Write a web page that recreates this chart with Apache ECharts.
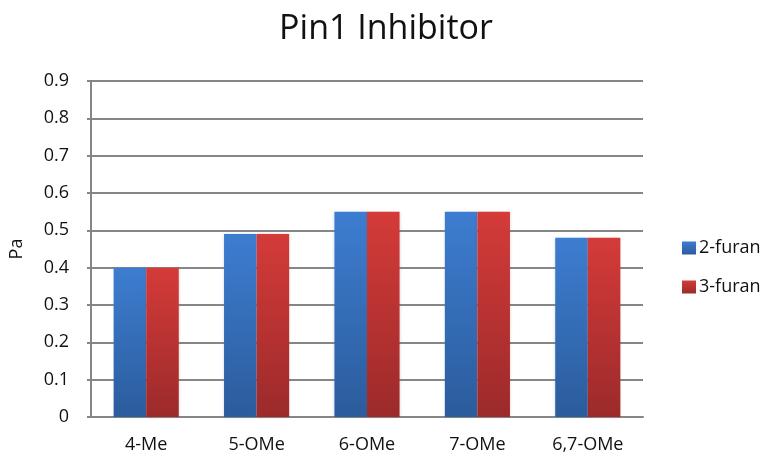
<!DOCTYPE html>
<html>
<head>
<meta charset="utf-8">
<script src="https://cdn.jsdelivr.net/npm/echarts@6/dist/echarts.min.js"></script>
<style>
  html, body { margin: 0; padding: 0; background: #fff; }
  #chart { width: 766px; height: 457px; }
</style>
</head>
<body>
<div id="chart"></div>
<script>
// Pin1 inhibition by substituent, two furan isomers
const categories = ['4-Me', '5-OMe', '6-OMe', '7-OMe', '6,7-OMe'];
const furan2 = [0.40, 0.49, 0.55, 0.55, 0.48];
const furan3 = [0.40, 0.49, 0.55, 0.55, 0.48];
const yTicks = { min: 0, max: 0.9, interval: 0.1 };

const FONT = 'Open Sans';

function vGrad(top, bottom) {
  return new echarts.graphic.LinearGradient(0, 0, 0, 1, [
    { offset: 0, color: top },
    { offset: 1, color: bottom }
  ]);
}

const chart = echarts.init(document.getElementById('chart'), null, { renderer: 'canvas' });

chart.setOption({
  backgroundColor: '#ffffff',
  animation: false,
  title: {
    text: 'Pin1 Inhibitor',
    left: 381,
    textAlign: 'center',
    top: 7,
    textStyle: { fontFamily: FONT, fontSize: 34, fontWeight: 'normal', color: '#111' }
  },
  legend: {
    orient: 'vertical',
    left: 677,
    top: 234,
    itemWidth: 14,
    itemHeight: 13,
    itemGap: 21,
    icon: 'rect',
    textStyle: { fontFamily: FONT, fontSize: 18, color: '#111', padding: [0, 0, 0, -2] },
    data: ['2-furan', '3-furan']
  },
  grid: { left: 89, right: 123, top: 81, bottom: 40, containLabel: false },
  xAxis: {
    type: 'category',
    data: categories,
    axisLine: { show: true, lineStyle: { color: '#868686', width: 2 } },
    axisTick: { show: false },
    axisLabel: { fontFamily: FONT, fontSize: 18, color: '#111', margin: 19 }
  },
  yAxis: {
    type: 'value',
    min: yTicks.min,
    max: yTicks.max,
    interval: yTicks.interval,
    name: 'Pa',
    nameLocation: 'middle',
    nameGap: 65,
    nameRotate: 90,
    nameTextStyle: { fontFamily: FONT, fontSize: 18, color: '#111' },
    axisLine: { show: true, lineStyle: { color: '#868686', width: 2 } },
    axisTick: { show: true, length: 4, lineStyle: { color: '#868686', width: 2 } },
    axisLabel: {
      fontFamily: FONT, fontSize: 18, color: '#111', margin: 22,
      formatter: v => (Math.round(v * 10) / 10).toString()
    },
    splitLine: { show: true, lineStyle: { color: '#868686', width: 2 } }
  },
  series: [
    {
      name: '2-furan',
      type: 'bar',
      data: furan2,
      barGap: '0%',
      barCategoryGap: '41%',
      itemStyle: {
        color: vGrad('#3d7dd0', '#2b5c9c'),
        shadowColor: 'rgba(60,110,190,0.25)',
        shadowBlur: 3
      }
    },
    {
      name: '3-furan',
      type: 'bar',
      data: furan3,
      barGap: '0%',
      barCategoryGap: '41%',
      itemStyle: {
        color: vGrad('#d43b39', '#9c2a2a'),
        shadowColor: 'rgba(180,60,60,0.25)',
        shadowBlur: 3
      }
    }
  ]
});
</script>
</body>
</html>
